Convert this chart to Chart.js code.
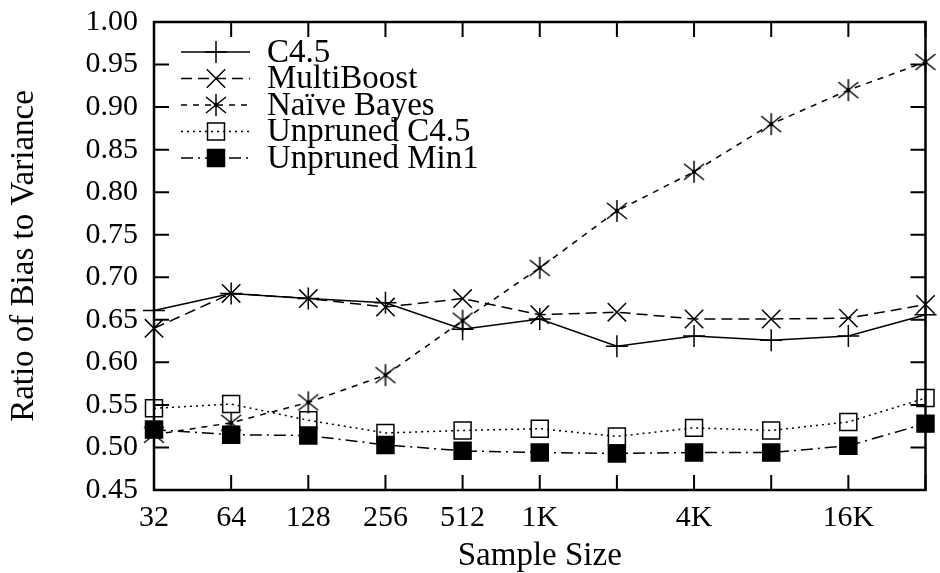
<!DOCTYPE html>
<html>
<head>
<meta charset="utf-8">
<script src="https://cdn.jsdelivr.net/npm/chart.js@4"></script>
<style>
  html, body { margin: 0; background: #fff; }
</style>
</head>
<body>
<canvas id="biasChart" width="940" height="573"></canvas>
<script>
const sampleSizes = ['32', '64', '128', '256', '512', '1K', '2K', '4K', '8K', '16K', '32K'];
const tickLabels = ['32', '64', '128', '256', '512', '1K', '', '4K', '', '16K', ''];

const c45 = [0.661, 0.681, 0.675, 0.670, 0.639, 0.651, 0.619, 0.631, 0.626, 0.631, 0.656];
const multiBoost = [0.640, 0.681, 0.675, 0.665, 0.675, 0.656, 0.659, 0.651, 0.651, 0.652, 0.668];
const naiveBayes = [0.515, 0.529, 0.553, 0.585, 0.649, 0.711, 0.778, 0.824, 0.880, 0.920, 0.953];
const unprunedC45 = [0.546, 0.551, 0.532, 0.517, 0.520, 0.522, 0.513, 0.523, 0.520, 0.530, 0.558];
const unprunedMin1 = [0.521, 0.515, 0.514, 0.503, 0.496, 0.494, 0.493, 0.494, 0.494, 0.502, 0.528];

const SERIF = '"Liberation Serif", "Times New Roman", serif';
const TICK_FONT = { family: SERIF, size: 30 };
const TEXT_FONT = { family: SERIF, size: 33, lineHeight: 1 };

// six-spoke asterisk with a centre dot, like the gnuplot star
const star = document.createElement('canvas');
star.width = 24; star.height = 24;
(function () {
    const s = star.getContext('2d');
    s.strokeStyle = '#000';
    s.lineWidth = 1.5;
    s.beginPath();
    s.moveTo(12, 1); s.lineTo(12, 23);
    s.moveTo(2, 4); s.lineTo(22, 20);
    s.moveTo(22, 4); s.lineTo(2, 20);
    s.stroke();
    s.fillStyle = '#000';
    s.beginPath(); s.arc(12, 12, 2.2, 0, Math.PI * 2); s.fill();
})();

function series(label, data, dash, style, radius, fill) {
    return {
        label: label,
        data: data,
        borderColor: '#000',
        borderWidth: 1.5,
        borderDash: dash,
        pointStyle: style,
        pointRadius: radius,
        pointBorderColor: '#000',
        pointBorderWidth: 1.5,
        pointBackgroundColor: fill,
        tension: 0,
        fill: false,
        clip: false
    };
}

const datasets = [
    series('C4.5', c45, [], 'cross', 11, 'transparent'),
    series('MultiBoost', multiBoost, [11, 6], 'crossRot', 13, 'transparent'),
    series('Naïve Bayes', naiveBayes, [6, 6], star, 12, 'transparent'),
    series('Unpruned C4.5', unprunedC45, [2, 4], 'rect', 12, 'transparent'),
    series('Unpruned Min1', unprunedMin1, [12, 5, 2, 5], 'rect', 12, '#000')
];

// box with inward ticks on all four sides
const frame = {
    id: 'frame',
    afterDraw(chart) {
        const { ctx, chartArea: a, scales } = chart;
        ctx.save();
        ctx.strokeStyle = '#000';
        ctx.setLineDash([]);
        ctx.lineWidth = 2;
        ctx.beginPath();
        scales.y.ticks.forEach(t => {
            const py = scales.y.getPixelForValue(t.value);
            ctx.moveTo(a.left, py); ctx.lineTo(a.left + 15, py);
            ctx.moveTo(a.right, py); ctx.lineTo(a.right - 15, py);
        });
        sampleSizes.forEach((s, i) => {
            const px = scales.x.getPixelForValue(i);
            ctx.moveTo(px, a.bottom); ctx.lineTo(px, a.bottom - 15);
            ctx.moveTo(px, a.top); ctx.lineTo(px, a.top + 15);
        });
        ctx.stroke();
        ctx.lineWidth = 2.5;
        ctx.strokeRect(a.left, a.top, a.right - a.left, a.bottom - a.top);
        ctx.restore();
    }
};

// legend in gnuplot style: line sample with the marker in the middle
const keyBox = {
    id: 'keyBox',
    afterDraw(chart) {
        const ctx = chart.ctx;
        ctx.save();
        chart.data.datasets.forEach((ds, i) => {
            const y = 52 + i * 26.5;
            ctx.strokeStyle = '#000';
            ctx.lineWidth = 1.5;
            ctx.setLineDash(ds.borderDash);
            ctx.beginPath();
            ctx.moveTo(181, y); ctx.lineTo(250, y);
            ctx.stroke();
            ctx.setLineDash([]);
            ctx.fillStyle = ds.pointBackgroundColor;
            Chart.helpers.drawPoint(ctx, {
                pointStyle: ds.pointStyle, radius: ds.pointRadius, rotation: 0, borderWidth: 1.5
            }, 216, y);
            ctx.fillStyle = '#000';
            ctx.font = TEXT_FONT.size + 'px ' + SERIF;
            ctx.textBaseline = 'middle';
            ctx.textAlign = 'left';
            ctx.fillText(ds.label, 267, y + 1);
        });
        ctx.restore();
    }
};

new Chart(document.getElementById('biasChart'), {
    type: 'line',
    data: { labels: sampleSizes, datasets: datasets },
    options: {
        responsive: false,
        devicePixelRatio: 1,
        animation: false,
        layout: { padding: { left: 0, right: 13, top: 22, bottom: 0 } },
        plugins: { legend: { display: false }, tooltip: { enabled: false } },
        scales: {
            x: {
                type: 'category',
                offset: false,
                grid: { display: false, drawTicks: false },
                border: { display: false },
                ticks: {
                    color: '#000', font: TICK_FONT, padding: 10, autoSkip: false, maxRotation: 0,
                    callback: (v, i) => tickLabels[i]
                },
                title: { display: true, text: 'Sample Size', color: '#000', font: TEXT_FONT, padding: { top: 0, bottom: 0 } },
                afterFit: s => { s.height = 83; s.paddingLeft = 0; s.paddingRight = 0; }
            },
            y: {
                min: 0.45,
                max: 1.00,
                grid: { display: false, drawTicks: false },
                border: { display: false },
                ticks: {
                    color: '#000', font: TICK_FONT, padding: 16, stepSize: 0.05,
                    callback: v => v.toFixed(2)
                },
                title: { display: true, text: 'Ratio of Bias to Variance', color: '#000', font: TEXT_FONT, padding: { top: 8, bottom: 0 } },
                afterFit: s => { s.width = 154; s.paddingTop = 0; s.paddingBottom = 0; }
            }
        }
    },
    plugins: [frame, keyBox]
});
</script>
</body>
</html>
